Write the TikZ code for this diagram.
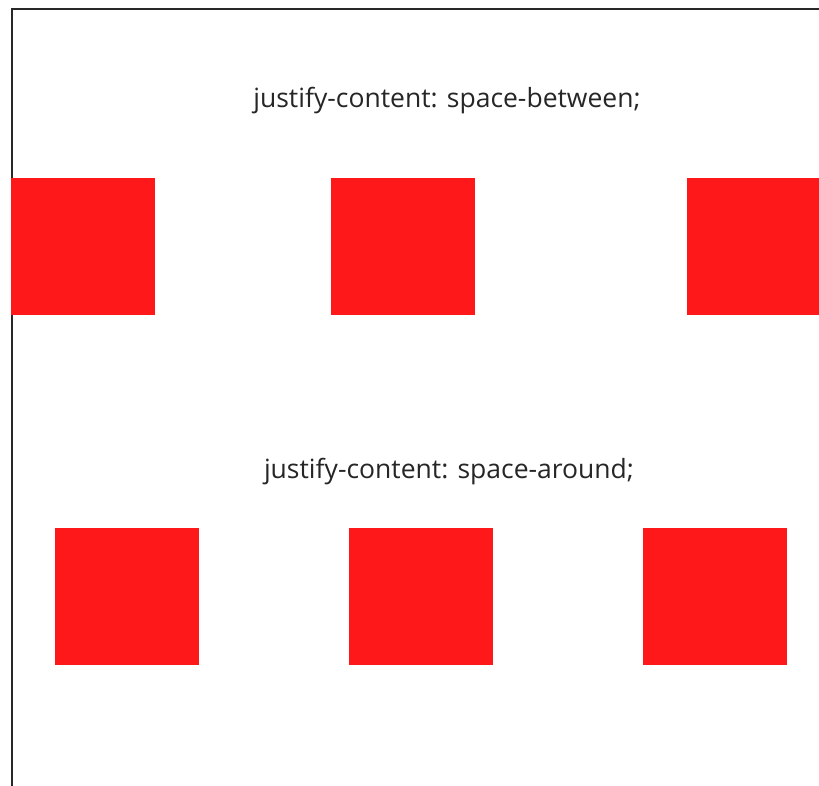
\documentclass[tikz,border=0pt]{standalone}
\usepackage{fontspec}
\setmainfont{Open Sans}
\definecolor{boxred}{RGB}{255,24,26}
\definecolor{frame}{RGB}{40,40,40}
\begin{document}
\begin{tikzpicture}[x=1pt,y=-1pt,
  sq/.style={fill=boxred,draw=none,minimum width=144pt,minimum height=137pt,inner sep=0pt,anchor=north west},
  lbl/.style={font=\fontsize{26.5}{31}\selectfont,text=black!85,inner sep=0pt}]
\useasboundingbox (0,0) rectangle (819,786);
\fill[white] (0,0) rectangle (819,786);
\coordinate (tl) at (11.5,9);
\coordinate (tr) at (819,9);
\coordinate (bl) at (11.5,786);
\draw[frame,line width=2pt] (tr) -- (tl) -- (bl);
\node[lbl] (t1) at (447,101) {justify-content: space-between;};
\node[sq] (a1) at (11,178) {};
\node[sq] (a2) at (331,178) {};
\node[sq] (a3) at (687,178) {};
\node[lbl] (t2) at (449,472) {justify-content: space-around;};
\node[sq] (b1) at (55,528) {};
\node[sq] (b2) at (349,528) {};
\node[sq] (b3) at (643,528) {};
\end{tikzpicture}
\end{document}
